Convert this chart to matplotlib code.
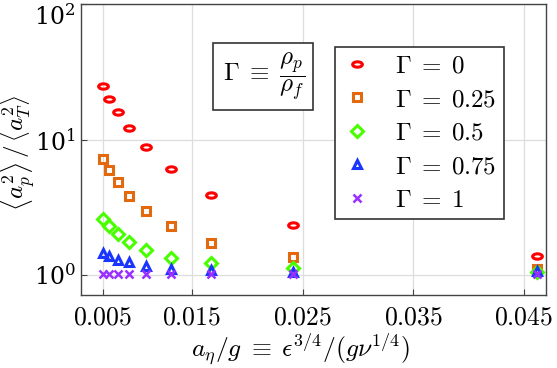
import matplotlib
matplotlib.use("Agg")
import matplotlib.pyplot as plt
from matplotlib.path import Path
from matplotlib.transforms import Affine2D
from matplotlib.ticker import FixedLocator, FixedFormatter, LogLocator, NullLocator

plt.rcParams['mathtext.fontset'] = 'cm'
plt.rcParams['font.family'] = 'serif'
plt.rcParams['font.serif'] = ['DejaVu Serif']

# a_eta / g values
x = [0.00696, 0.00753, 0.00829, 0.00933, 0.01082, 0.01308, 0.01672, 0.02410, 0.04620]

# <a_p^2>/<a_T^2> for each density ratio
g0 = [25.0, 20.0, 15.9, 12.2, 8.8, 6.1, 3.92, 2.34, 1.37]
g025 = [7.2, 6.0, 4.85, 3.83, 2.97, 2.30, 1.73, 1.35, 1.11]
g05 = [2.61, 2.30, 2.01, 1.74, 1.52, 1.34, 1.23, 1.13, 1.06]
g075 = [1.45, 1.37, 1.30, 1.24, 1.16, 1.11, 1.09, 1.06, 1.07]
g1 = [1.02, 1.02, 1.02, 1.02, 1.02, 1.02, 1.02, 1.02, 1.02]

series = [g0, g025, g05, g075, g1]
labels = [r'$\Gamma \;=\; 0$', r'$\Gamma \;=\; 0.25$', r'$\Gamma \;=\; 0.5$',
          r'$\Gamma \;=\; 0.75$', r'$\Gamma \;=\; 1$']
colors = ['#ff0000', '#e2690e', '#48ff00', '#1a35ff', '#9a30ff']

# flattened circle, like the original
ellipse = Path.unit_circle().transformed(Affine2D().scale(1.0, 0.55))
markers = [ellipse, 's', 'D', '^', 'x']
sizes = [7.0, 5.8, 5.8, 6.2, 6.0]

xtick_pos = [0.00696, 0.015, 0.025, 0.035, 0.045]
xtick_lab = ['$0.005$', '$0.015$', '$0.025$', '$0.035$', '$0.045$']

fig = plt.figure(figsize=(5.57, 3.68), dpi=100)
ax = fig.add_axes([0.1454, 0.1984, 0.8349, 0.7907])

for ys, lab, m, c, s in zip(series, labels, markers, colors, sizes):
    if m == 'x':
        ax.plot(x, ys, linestyle='none', marker=m, color=c, markersize=s,
                markeredgewidth=1.8, label=lab, zorder=3)
    else:
        ax.plot(x, ys, linestyle='none', marker=m, markerfacecolor='none',
                markeredgecolor=c, markersize=s, markeredgewidth=2.2, label=lab, zorder=3)

ax.set_yscale('log')
ax.set_ylim(0.712, 100)
ax.set_xlim(0.00497, 0.04699)
ax.xaxis.set_major_locator(FixedLocator(xtick_pos))
ax.xaxis.set_major_formatter(FixedFormatter(xtick_lab))
ax.yaxis.set_major_locator(LogLocator(base=10))
ax.yaxis.set_minor_locator(NullLocator())

ax.grid(True, color='#dddddd', linewidth=0.9)
ax.set_axisbelow(True)
ax.tick_params(direction='in', length=4, color='#444444')
ax.tick_params(axis='x', labelsize=18.5, pad=7)
ax.tick_params(axis='y', labelsize=17, pad=4)
for sp in ax.spines.values():
    sp.set_color('#444444')
    sp.set_linewidth(1.0)

ax.set_xlabel(r'$a_\eta/g \;\equiv\; \epsilon^{3/4}/(g\nu^{1/4})$', fontsize=18.5, labelpad=1)
ax.xaxis.label.set_x(0.473)
ax.set_ylabel(r'$\left\langle a_p^2 \right\rangle \,/\, \left\langle a_T^2 \right\rangle$', fontsize=18)
ax.yaxis.set_label_coords(-0.094, 0.488)

leg = ax.legend(loc='upper left', bbox_to_anchor=(0.546, 0.852), borderaxespad=0,
                fontsize=18, fancybox=False, framealpha=1, edgecolor='#333333',
                handletextpad=0.9, labelspacing=0.42, borderpad=0.3, handlelength=1.2)
leg.get_frame().set_linewidth(1.2)

ax.text(0.300, 0.75, r'$\,\Gamma \;\equiv\; \dfrac{\rho_p}{\rho_f}\,$', transform=ax.transAxes,
        fontsize=18, va='center', ha='left',
        bbox=dict(boxstyle='square,pad=0.3', facecolor='white', edgecolor='#333333', linewidth=1.2))

# the top decade label sits just below the frame in the original
fig.canvas.draw()
for t in ax.get_yticklabels():
    if t.get_position()[1] >= 99:
        t.set_verticalalignment('top')

fig.savefig('out.png', dpi=100)
